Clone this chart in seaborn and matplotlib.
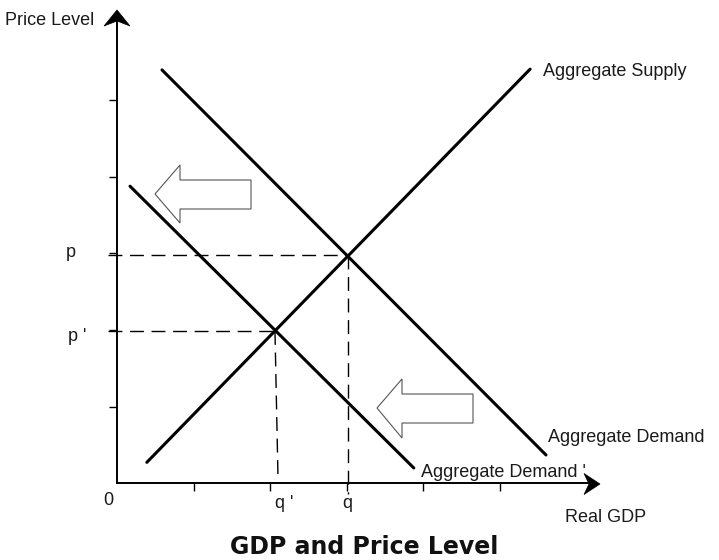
import numpy as np
import pandas as pd
import matplotlib
matplotlib.use("Agg")
import matplotlib.pyplot as plt
from matplotlib.patches import Polygon
import seaborn as sns

# ---- data (in axis units, 1 unit = one tick spacing) ----
as_x = [0.39, 5.40]
as_y = [0.27, 5.41]
ad_x = [0.588, 5.608]
ad_y = [5.40, 0.366]
ad2_x = [0.17, 3.88]
ad2_y = [3.88, 0.196]
p_level = 2.98
q_level = 3.02
p2_level = 1.987
q2_level = 2.065
tick_vals = [1, 2, 3, 4, 5]
curve_labels = ["Aggregate Supply", "Aggregate Demand", "Aggregate Demand '"]
axis_labels = ["Price Level", "Real GDP"]
point_labels = ["p", "p '", "q", "q '", "0"]
title_text = "GDP and Price Level"

sns.set_theme(style="white")
plt.rcParams['font.family'] = ['Liberation Sans', 'DejaVu Sans']

W, H = 719, 560
OX, OY, U = 117.0, 483.0, 76.5


def X(px):
    return (px - OX) / U


def Y(py):
    return (OY - py) / U


fig = plt.figure(figsize=(W / 100, H / 100), dpi=100)
ax = fig.add_axes([0, 0, 1, 1])
ax.set_xlim(X(0), X(W))
ax.set_ylim(Y(H), Y(0))
ax.set_facecolor("white")

# axes spines through origin
for s in ["top", "right"]:
    ax.spines[s].set_visible(False)
ax.spines["left"].set_position(("data", 0))
ax.spines["bottom"].set_position(("data", 0))
ax.spines["left"].set_bounds(0, Y(22))
ax.spines["bottom"].set_bounds(0, X(588))
for s in ["left", "bottom"]:
    ax.spines[s].set_color("black")
    ax.spines[s].set_linewidth(1.4)
ax.set_xticks(tick_vals)
ax.set_yticks(tick_vals)
ax.set_xticklabels([])
ax.set_yticklabels([])
ax.tick_params(direction="out", length=6, width=1.0, color="black",
               bottom=True, left=True)

# axis arrowheads
ax.add_patch(Polygon([(X(117), Y(10)), (X(104), Y(26)), (X(117), Y(21)), (X(130), Y(26))],
                     closed=True, facecolor="black", edgecolor="black", lw=0.5, zorder=5))
ax.add_patch(Polygon([(X(600), Y(484)), (X(584), Y(473.5)), (X(589), Y(484)), (X(584), Y(494.5))],
                     closed=True, facecolor="black", edgecolor="black", lw=0.5, zorder=5))

# curves
lw_curve = 2.2
sns.lineplot(x=as_x, y=as_y, ax=ax, color="black", lw=lw_curve, sort=False)
sns.lineplot(x=ad_x, y=ad_y, ax=ax, color="black", lw=lw_curve, sort=False)
sns.lineplot(x=ad2_x, y=ad2_y, ax=ax, color="black", lw=lw_curve, sort=False)

# dashed guide lines
dash = (0, (10, 5.5))
ax.plot([X(108), q_level], [p_level, p_level], color="black", lw=1.0, ls=dash)
ax.plot([q_level, q_level], [p_level, Y(494)], color="black", lw=1.0, ls=dash)
ax.plot([X(108), q2_level], [p2_level, p2_level], color="black", lw=1.0, ls=dash)
ax.plot([q2_level, X(278)], [p2_level, Y(478)], color="black", lw=1.0, ls=dash)

# hollow block arrows showing the shift
for tip, hx, ht, hb, st, sb, tail in [
        ((155, 194), 180, 165, 223, 180, 209, 251),
        ((377, 408), 402, 379, 438, 394, 423, 473)]:
    pts = [tip, (hx, ht), (hx, st), (tail, st), (tail, sb), (hx, sb), (hx, hb)]
    ax.add_patch(Polygon([(X(a), Y(b)) for a, b in pts], closed=True,
                         facecolor="white", edgecolor="#555555", lw=0.8, zorder=4))

txt = dict(color="#1a1a1a", fontsize=13, va="baseline")
ax.text(X(543), Y(76), curve_labels[0], ha="left", **txt)
ax.text(X(548), Y(442), curve_labels[1], ha="left", **txt)
ax.text(X(421), Y(477), curve_labels[2], ha="left", **txt)
ax.text(X(5), Y(25.5), axis_labels[0], ha="left", **txt)
ax.text(X(565), Y(522), axis_labels[1], ha="left", **txt)
ax.text(X(66), Y(257), point_labels[0], ha="left", **txt)
ax.text(X(68), Y(341), point_labels[1], ha="left", **txt)
ax.text(X(342), Y(508), point_labels[2], ha="left", **txt)
ax.text(X(275), Y(508), point_labels[3], ha="left", **txt)
ax.text(X(108), Y(505), point_labels[4], ha="center", **txt)

ax.text(X(364), Y(554), title_text, ha="center", va="baseline", fontsize=17,
        fontweight="bold", family="DejaVu Sans", color="#111111")

fig.savefig("out.png", dpi=100)
